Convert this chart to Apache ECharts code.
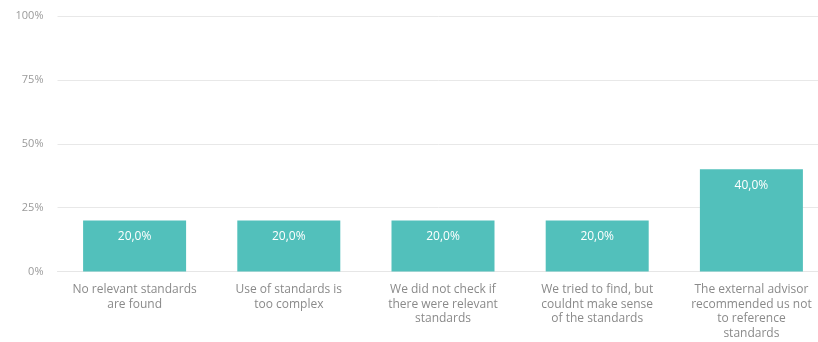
<!DOCTYPE html>
<html>
<head>
<meta charset="utf-8">
<script src="https://cdn.jsdelivr.net/npm/echarts@6/dist/echarts.min.js"></script>
<style>
html,body{margin:0;padding:0;background:#fff;}
#chart{width:818px;height:342px;}
</style>
</head>
<body>
<div id="chart"></div>
<script>
var categories = [
  "No relevant standards\nare found",
  "Use of standards is\ntoo complex",
  "We did not check if\nthere were relevant\nstandards",
  "We tried to find, but\ncouldnt make sense\nof the standards",
  "The external advisor\nrecommended us not\nto reference\nstandards"
];
var values = [20.0, 20.0, 20.0, 20.0, 40.0];
var yTicks = [0, 25, 50, 75, 100];

var chart = echarts.init(document.getElementById('chart'), null, {renderer: 'canvas'});
chart.setOption({
  animation: false,
  grid: {left: 57.5, width: 771, top: 16, height: 255.5, containLabel: false, outerBoundsMode: 'none'},
  xAxis: {
    type: 'category',
    data: categories,
    axisLine: {show: true, lineStyle: {color: '#e6e6e6'}},
    axisTick: {show: false},
    axisLabel: {
      color: '#8a8a8a', fontSize: 12, fontFamily: 'Open Sans, sans-serif',
      lineHeight: 14.5, margin: 11, interval: 0
    }
  },
  yAxis: {
    type: 'value',
    min: 0, max: 100, interval: 25,
    axisLine: {show: false},
    axisTick: {show: false},
    splitLine: {lineStyle: {color: '#e8e8e8', width: 1}},
    axisLabel: {
      color: '#9a9a9a', fontSize: 11, fontFamily: 'Open Sans, sans-serif', margin: 14,
      formatter: function (v) { return yTicks.indexOf(v) >= 0 ? v + '%' : ''; }
    }
  },
  series: [{
    type: 'bar',
    data: values,
    barWidth: 103,
    itemStyle: {color: '#52c0bb'},
    label: {
      show: true, position: 'insideTop', distance: 10,
      color: '#ffffff', fontSize: 12, fontFamily: 'Open Sans, sans-serif',
      formatter: function (p) { return p.value.toFixed(1).replace('.', ',') + '%'; }
    }
  }]
});
</script>
</body>
</html>
